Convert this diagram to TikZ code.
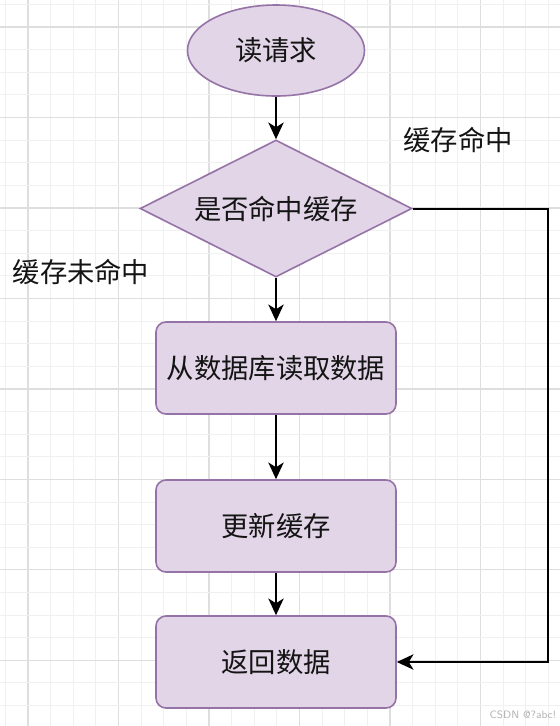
\documentclass[tikz,border=0pt]{standalone}
\usepackage{fontspec}
\setmainfont{Noto Sans CJK SC}
\usetikzlibrary{shapes.geometric,arrows.meta}
\definecolor{boxfill}{HTML}{E1D5E7}
\definecolor{boxdraw}{HTML}{9673A6}
\definecolor{gridminor}{HTML}{F0F0F0}
\definecolor{gridmajor}{HTML}{DEDEDE}
\definecolor{txt}{HTML}{141414}
\begin{document}
\begin{tikzpicture}[x=0.75pt,y=-0.75pt,
  base/.style={fill=boxfill,draw=boxdraw,line width=1.2pt,text=txt,font=\fontsize{20.5}{23}\selectfont,inner sep=0pt},
  startnode/.style={base,ellipse,minimum width=132.75pt,minimum height=68.25pt},
  decide/.style={base,diamond,aspect=2,minimum width=204pt,minimum height=102.75pt},
  procbox/.style={base,rectangle,rounded corners=7.5pt,minimum width=180pt,minimum height=69pt},
  lbl/.style={text=txt,font=\fontsize{20.5}{23}\selectfont,inner sep=0pt},
  flow/.style={line width=1.5pt,draw=black,-{Stealth[length=12.5pt,width=11.5pt,inset=3.5pt]}}]
\useasboundingbox (0,0) rectangle (560,726);
\fill[white] (0,0) rectangle (560,726);
% grid
\foreach \i in {-1,...,24}{
  \pgfmathsetmacro{\xx}{28+\i*22.62}
  \pgfmathtruncatemacro{\mm}{mod(\i+4,4)}
  \ifnum\mm=0
    \draw[gridmajor,line width=0.9pt] (\xx,0) -- (\xx,726);
  \else
    \draw[gridminor,line width=0.75pt] (\xx,0) -- (\xx,726);
  \fi
}
\foreach \i in {-1,...,31}{
  \pgfmathsetmacro{\yy}{27+\i*22.62}
  \pgfmathtruncatemacro{\mm}{mod(\i+4,4)}
  \ifnum\mm=0
    \draw[gridmajor,line width=0.9pt] (0,\yy) -- (560,\yy);
  \else
    \draw[gridminor,line width=0.75pt] (0,\yy) -- (560,\yy);
  \fi
}
% nodes
\node[startnode] (read) at (276,50.5) {读请求};
\node[decide] (hit) at (276,208.5) {是否命中缓存};
\node[procbox] (db) at (276,368) {从数据库读取数据};
\node[procbox] (upd) at (276,526) {更新缓存};
\node[procbox] (ret) at (276,662) {返回数据};
\coordinate (c1) at (548,208.5);
\coordinate (c2) at (548,662);
% labels
\node[lbl] (lhit) at (458,140) {缓存命中};
\node[lbl] (lmiss) at (81,272) {缓存未命中};
\node[text=gray!60,font=\fontsize{8}{9.5}\selectfont\sffamily,inner sep=0pt] (wm) at (523,715) {CSDN @?abc!};
% connectors
\draw[flow] (read) -- (hit);
\draw[flow] (hit) -- (db);
\draw[flow] (db) -- (upd);
\draw[flow] (upd) -- (ret);
\draw[flow] (hit.east) -- (c1) -- (c2) -- (ret.east);
\end{tikzpicture}
\end{document}
